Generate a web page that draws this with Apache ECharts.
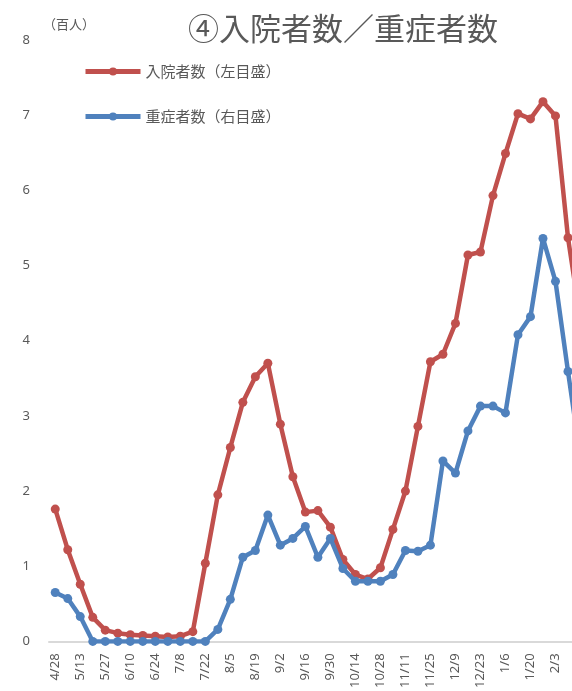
<!DOCTYPE html>
<html>
<head>
<meta charset="utf-8">
<script src="https://cdn.jsdelivr.net/npm/echarts@6/dist/echarts.min.js"></script>
<style>
  html, body { margin: 0; padding: 0; background: #fff; overflow: hidden; }
  /* the plot runs past the right edge of the window, like the cropped original */
  #chart { width: 587px; height: 691px; }
</style>
</head>
<body>
<div id="chart"></div>
<script>
// weekly dates (last ones run past the right edge of the picture)
const dates = ["4/28", "5/6", "5/13", "5/20", "5/27", "6/3", "6/10", "6/17", "6/24", "7/1",
  "7/8", "7/15", "7/22", "7/29", "8/5", "8/12", "8/19", "8/26", "9/2", "9/9",
  "9/16", "9/23", "9/30", "10/7", "10/14", "10/21", "10/28", "11/4", "11/11", "11/18",
  "11/25", "12/2", "12/9", "12/16", "12/23", "12/30", "1/6", "1/13", "1/20", "1/27",
  "2/3", "2/10", "2/17"];
// 入院者数 (百人)
const inpatients = [1.76, 1.22, 0.76, 0.32, 0.15, 0.11, 0.09, 0.08, 0.07, 0.06,
  0.07, 0.13, 1.04, 1.95, 2.58, 3.18, 3.52, 3.70, 2.89, 2.19,
  1.72, 1.74, 1.52, 1.09, 0.89, 0.83, 0.98, 1.49, 2.00, 2.86,
  3.72, 3.82, 4.23, 5.14, 5.18, 5.93, 6.49, 7.02, 6.95, 7.18,
  6.99, 5.37, 4.27];
// 重症者数
const severe = [0.65, 0.57, 0.33, 0, 0, 0, 0, 0, 0, 0,
  0, 0, 0, 0.16, 0.56, 1.12, 1.21, 1.68, 1.28, 1.37,
  1.53, 1.12, 1.37, 0.97, 0.80, 0.80, 0.80, 0.89, 1.21, 1.20,
  1.28, 2.40, 2.24, 2.80, 3.13, 3.13, 3.04, 4.08, 4.32, 5.36,
  4.79, 3.59, 2.44];
const yTicks = [0, 1, 2, 3, 4, 5, 6, 7, 8];

const gray = "#595959";
const jp = "'Noto Sans CJK JP', sans-serif";

const chart = echarts.init(document.getElementById("chart"));
const option = {
  animation: false,
  title: [
    {
      text: "④入院者数／重症者数",
      left: 183,
      top: 8,
      textStyle: { color: gray, fontFamily: jp, fontSize: 31, fontWeight: "normal" }
    },
    {
      text: "（百人）",
      left: 38,
      top: 13,
      textStyle: { color: gray, fontFamily: jp, fontSize: 13, fontWeight: "normal" }
    }
  ],
  legend: {
    orient: "vertical",
    left: 83,
    top: 64,
    padding: 0,
    itemWidth: 55,
    itemHeight: 10,
    itemGap: 30,
    lineStyle: { width: 5 },
    textStyle: { color: gray, fontFamily: jp, fontSize: 15 },
    data: ["入院者数（左目盛）", "重症者数（右目盛）"]
  },
  grid: { left: 49, right: 0, top: 40, bottom: 48 },
  xAxis: {
    type: "category",
    data: dates,
    axisLine: { lineStyle: { color: "#d9d9d9", width: 2 } },
    axisTick: { show: false },
    axisLabel: {
      interval: 1,
      rotate: 90,
      margin: 12,
      color: gray,
      fontSize: 13,
      fontFamily: "'Noto Sans', sans-serif"
    }
  },
  yAxis: [
    {
      type: "value",
      min: yTicks[0],
      max: yTicks[yTicks.length - 1],
      interval: 1,
      axisLine: { show: false },
      axisTick: { show: false },
      splitLine: { show: false },
      axisLabel: { color: gray, fontSize: 13, margin: 19, fontFamily: "'Noto Sans', sans-serif" }
    },
    {
      type: "value",
      min: yTicks[0],
      max: yTicks[yTicks.length - 1],
      show: false
    }
  ],
  series: [
    {
      name: "入院者数（左目盛）",
      type: "line",
      data: inpatients,
      yAxisIndex: 0,
      symbol: "circle",
      symbolSize: 9,
      showAllSymbol: true,
      lineStyle: { width: 4.5, color: "#C0504D" },
      itemStyle: { color: "#C0504D" },
      z: 2
    },
    {
      name: "重症者数（右目盛）",
      type: "line",
      data: severe,
      yAxisIndex: 1,
      symbol: "circle",
      symbolSize: 9,
      showAllSymbol: true,
      lineStyle: { width: 4.5, color: "#4F81BD" },
      itemStyle: { color: "#4F81BD" },
      z: 3
    }
  ]
};
chart.setOption(option);
</script>
</body>
</html>
